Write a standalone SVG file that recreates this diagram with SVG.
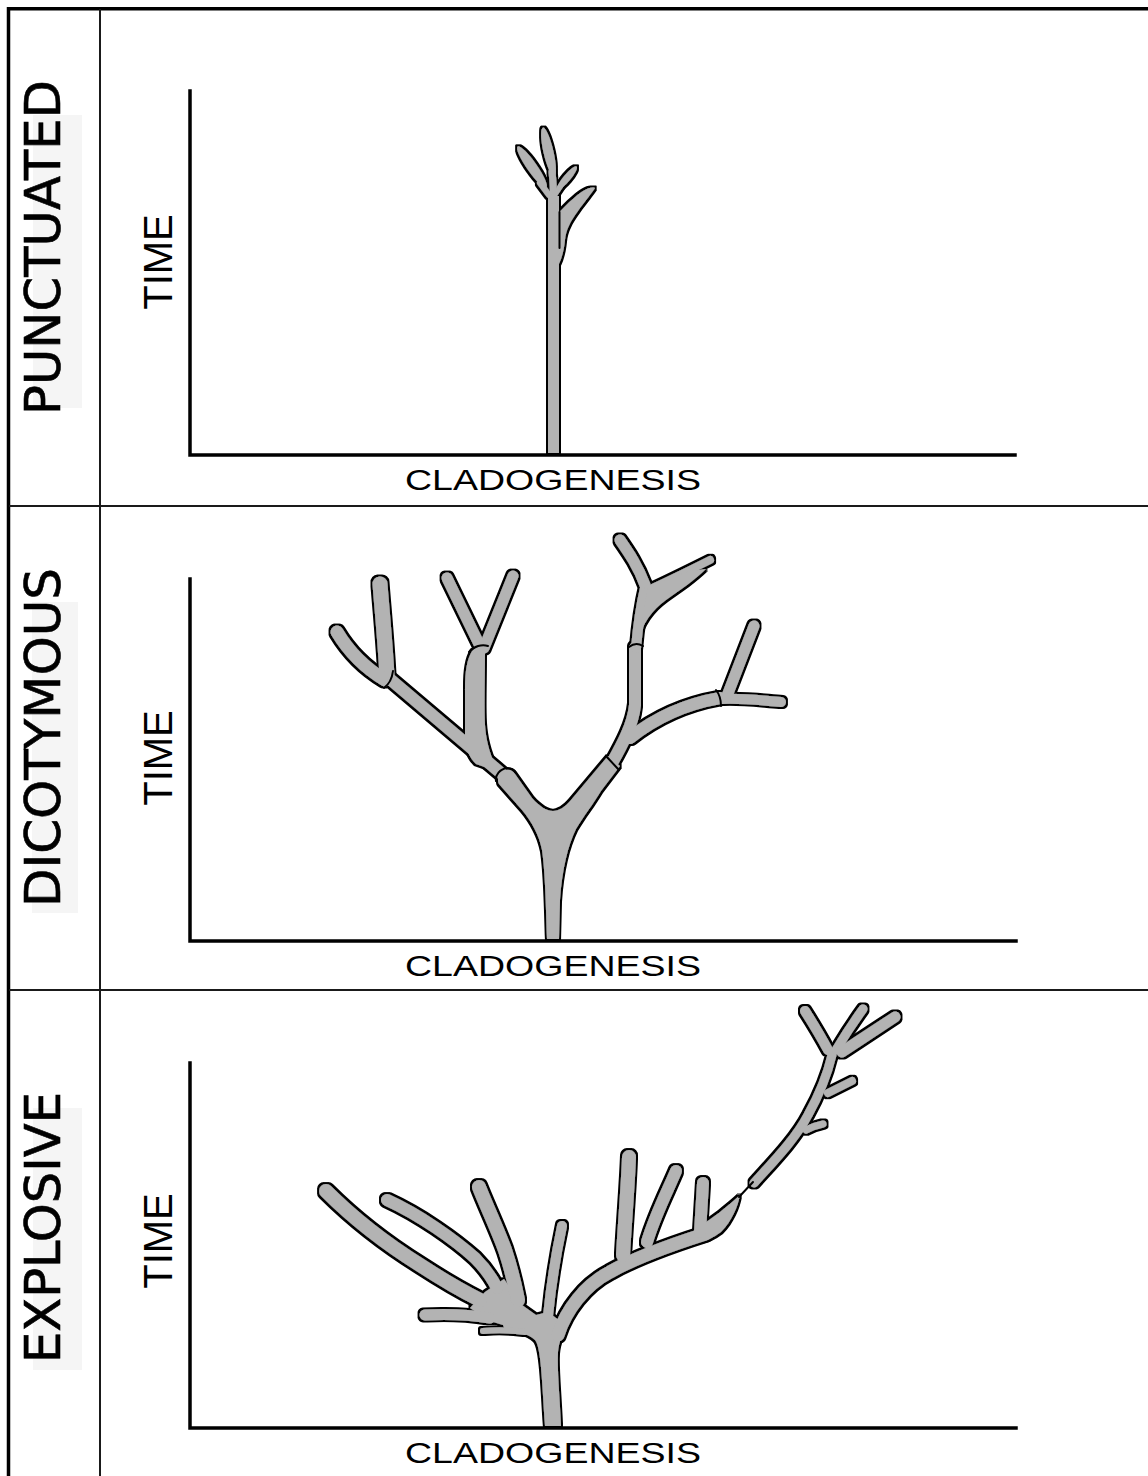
<svg xmlns="http://www.w3.org/2000/svg" width="1148" height="1476" viewBox="0 0 1148 1476">
  <style>
    .frame { stroke: #000; fill: none; }
    .rule { stroke: #1a1a1a; stroke-width: 2; fill: none; }
    .axis { stroke: #000; stroke-width: 3.5; fill: none; stroke-linecap: square; }
    .band { fill: #f5f5f5; }
    .mode { font-family: "DejaVu Sans", "Noto Sans", sans-serif; font-size: 49px; fill: #000; stroke: #000; stroke-width: 0.6; text-anchor: middle; }
    .time { font-family: "Liberation Sans", Arial, sans-serif; font-size: 40px; fill: #000; text-anchor: middle; }
    .clado { font-family: "Liberation Sans", Arial, sans-serif; font-size: 30px; fill: #000; }
    .limb { fill: none; stroke: #b3b3b3; stroke-linecap: round; stroke-linejoin: round; }
    .base { stroke-linecap: butt; }
    .mass { fill: #b3b3b3; stroke: none; }
    .seam { fill: none; stroke: #000; stroke-width: 2; stroke-linecap: round; }
  </style>
  <defs>
    <!-- grows a dark rim around the grey silhouette of each tree -->
    <filter id="ink" x="-15%" y="-15%" width="130%" height="130%">
      <feMorphology in="SourceAlpha" operator="dilate" radius="2" result="grow"/>
      <feFlood flood-color="#000"/>
      <feComposite in2="grow" operator="in" result="rim"/>
      <feMerge>
        <feMergeNode in="rim"/>
        <feMergeNode in="SourceGraphic"/>
      </feMerge>
    </filter>
  </defs>

  <rect width="1148" height="1476" fill="#fff"/>

  <!-- table frame -->
  <g id="frame">
    <line class="frame" x1="8.5" y1="7" x2="8.5" y2="1476" stroke-width="3.5"/>
    <line class="frame" x1="7" y1="8.8" x2="1148" y2="8.8" stroke-width="3.5"/>
    <line class="rule" x1="100" y1="9" x2="100" y2="1476"/>
    <line class="rule" x1="9" y1="506" x2="1148" y2="506"/>
    <line class="rule" x1="9" y1="990" x2="1148" y2="990"/>
  </g>

  <!-- row 1: punctuated -->
  <g id="panel-punctuated">
    <rect class="band" x="33" y="115" width="49" height="293"/>
    <text class="mode" transform="translate(59.5,247.5) rotate(-90)" textLength="335" lengthAdjust="spacingAndGlyphs">PUNCTUATED</text>
    <text class="time" transform="translate(172,262) rotate(-90)">TIME</text>
    <g id="tree-punctuated" filter="url(#ink)">
      <path class="limb base" stroke-width="11" d="M553.5,453 L553.5,196"/>
      <path class="limb" stroke-width="7" d="M553,200 C554,188 553,180 552,172"/>
      <ellipse class="mass" cx="548.5" cy="152" rx="25" ry="5" transform="rotate(77 548.5 152)"/>
      <ellipse class="mass" cx="532" cy="167" rx="25" ry="5" transform="rotate(55 532 167)"/>
      <path class="limb" stroke-width="6" d="M549,195 L540,183"/>
      <path class="limb" stroke-width="5" d="M554,196 L562,184"/>
      <ellipse class="mass" cx="567" cy="178" rx="15" ry="3.5" transform="rotate(-50 567 178)"/>
      <path class="mass" d="M558,266 C562,258 564,250 565,240 C566,230 570,222 578,211 C585,201 592,193 595,188 C590,186 582,191 574,198 C567,204 562,209 558,214 Z"/>
    </g>
    <line class="seam" x1="559.5" y1="212" x2="559.5" y2="248" stroke-width="1.5"/>
    <g id="axes-punctuated">
      <polyline class="axis" points="190,91 190,455 1015,455"/>
    </g>
    <text class="clado" x="405" y="490" textLength="296" lengthAdjust="spacingAndGlyphs">CLADOGENESIS</text>
  </g>

  <!-- row 2: dicotymous -->
  <g id="panel-dicotymous">
    <rect class="band" x="32" y="602" width="46" height="311"/>
    <text class="mode" transform="translate(59.5,737.5) rotate(-90)" textLength="339" lengthAdjust="spacingAndGlyphs">DICOTYMOUS</text>
    <text class="time" transform="translate(172,758) rotate(-90)">TIME</text>
    <g id="tree-dicotymous" filter="url(#ink)">
      <!-- forked base -->
      <path class="mass" d="M547,939 C546,905 545,870 542,850 C539,835 532,822 522,810 L499,784 C496,779 500,771 506,770 C510,769 513,771 515,774 L532,798 C540,807 547,811 553,811 C559,811 565,807 571,800 L608,756 L620,766 L601,791 C594,803 583,817 576,829 C568,845 562,870 560,900 L559,939 Z"/>
      <!-- left side -->
      <path class="limb" stroke-width="12" d="M391,680 C420,705 460,738 502,774"/>
      <path class="mass" d="M499,772 C490,757 486,740 485,725 C484,705 485,680 485,650 C481,647 476,647 472,651 C467,660 465,670 465,690 L465,740 C466,750 470,758 476,764 Z"/>
      <path class="limb" stroke-width="11" d="M481,648 L447,578"/>
      <path class="limb" stroke-width="11" d="M484,648 L513,576"/>
      <path class="limb" stroke-width="15" d="M387,676 C385,640 382,610 380,584"/>
      <path class="limb" stroke-width="13" d="M385,680 C365,668 349,652 337,632"/>
      <!-- right side -->
      <path class="limb" stroke-width="12" d="M612,763 C622,745 633,725 635,705 L635,648"/>
      <path class="limb" stroke-width="10" d="M636,648 C638,625 641,605 645,588"/>
      <path class="limb" stroke-width="11" d="M620,540 C629,553 638,566 645,585"/>
      <path class="limb" stroke-width="8" d="M648,590 C670,580 692,569 710,560"/>
      <path class="mass" d="M638,642 C642,624 652,610 666,600 C680,590 695,580 706,569 L690,571 L648,586 Z"/>
      <path class="limb" stroke-width="12" d="M630,738 C650,722 680,705 720,698"/>
      <path class="limb" stroke-width="11" d="M727,696 L754,626"/>
      <path class="limb" stroke-width="10" d="M722,699 C745,698 765,701 781,702"/>
    </g>
    <g id="joints-dicotymous">
      <path class="seam" d="M496,781 C495,775 500,769 507,768 C511,768 514,770 516,773"/>
      <path class="seam" d="M384,688 C388,685 392,679 393,671"/>
      <path class="seam" d="M469,652 C474,646 482,644 488,646"/>
      <path class="seam" d="M606,756 L619,770"/>
      <path class="seam" d="M629,647 C634,643 638,643 643,646"/>
      <path class="seam" d="M716,690 C720,695 721,700 721,706"/>
    </g>
    <g id="axes-dicotymous">
      <polyline class="axis" points="190,579 190,941 1016,941"/>
    </g>
    <text class="clado" x="405" y="976" textLength="296" lengthAdjust="spacingAndGlyphs">CLADOGENESIS</text>
  </g>

  <!-- row 3: explosive -->
  <g id="panel-explosive">
    <rect class="band" x="33" y="1108" width="49" height="262"/>
    <text class="mode" transform="translate(59.5,1227.5) rotate(-90)" textLength="271" lengthAdjust="spacingAndGlyphs">EXPLOSIVE</text>
    <text class="time" transform="translate(172,1241) rotate(-90)">TIME</text>
    <g id="tree-explosive" filter="url(#ink)">
      <!-- trunk and basal cluster -->
      <path class="mass" d="M545,1426 L561,1426 C560,1400 557,1370 558,1352 C559,1342 562,1334 568,1326 L556,1318 L548,1312 L536,1315 L522,1305 L504,1279 L485,1292 L470,1308 L490,1321 L503,1325 L505,1330 C518,1331 528,1334 535,1340 C541,1347 542,1380 545,1426 Z"/>
      <path class="limb" stroke-width="14" d="M326,1191 C350,1215 380,1240 420,1265 C440,1278 460,1290 480,1300"/>
      <path class="limb" stroke-width="12" d="M387,1200 C420,1215 455,1240 475,1258 C485,1268 492,1278 497,1288"/>
      <path class="limb" stroke-width="14" d="M479,1187 C486,1205 497,1228 505,1250 C510,1265 514,1280 518,1300"/>
      <path class="limb" stroke-width="10" d="M562,1226 C558,1245 552,1275 548,1316"/>
      <path class="limb" stroke-width="11" d="M425,1315 C445,1314 465,1314 490,1318"/>
      <path class="limb" stroke-width="6" d="M483,1331 C495,1330 510,1330 525,1332"/>
      <!-- rising branch -->
      <path class="limb" stroke-width="13" d="M558,1335 C566,1310 585,1285 610,1272 C640,1255 680,1242 705,1234"/>
      <path class="mass" d="M698,1227 C712,1219 728,1206 740,1195 C738,1206 732,1221 721,1232 C713,1238 706,1241 699,1242 Z"/>
      <path class="limb" stroke-width="14" d="M629,1157 C628,1185 625,1220 623,1255"/>
      <path class="limb" stroke-width="12" d="M676,1171 C668,1190 655,1215 647,1242"/>
      <path class="limb" stroke-width="12" d="M703,1183 C702,1200 701,1215 700,1232"/>
      <!-- upper shoot -->
      <path class="limb" stroke-width="9" d="M754,1183 C770,1165 795,1140 808,1115 C818,1097 826,1080 832,1055"/>
      <path class="limb" stroke-width="7" d="M806,1130 C812,1127 818,1125 823,1124"/>
      <path class="limb" stroke-width="8" d="M828,1093 C838,1088 846,1084 852,1081"/>
      <path class="limb" stroke-width="10" d="M805,1011 C812,1022 820,1035 828,1050"/>
      <path class="limb" stroke-width="9" d="M836,1050 C845,1035 855,1020 863,1009"/>
      <path class="limb" stroke-width="11" d="M842,1052 C860,1040 880,1027 895,1017"/>
    </g>
    <line class="seam" x1="739" y1="1197" x2="753" y2="1182" stroke-width="2.5"/>
    <g id="axes-explosive">
      <polyline class="axis" points="190,1063 190,1428 1016,1428"/>
    </g>
    <text class="clado" x="405" y="1463" textLength="296" lengthAdjust="spacingAndGlyphs">CLADOGENESIS</text>
  </g>
</svg>
